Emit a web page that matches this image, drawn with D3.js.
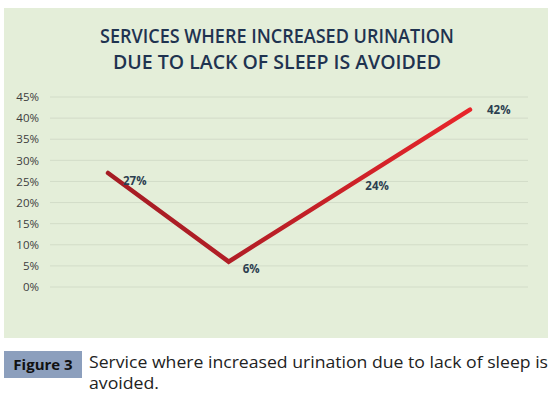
<!DOCTYPE html>
<html><head><meta charset="utf-8">
<script src="https://cdn.jsdelivr.net/npm/d3@7"></script>
<style>body{margin:0;background:#fff}svg{display:block}</style>
</head><body>
<script>
const categories = ["A","B","C","D"];
const values = [0.27, 0.06, 0.24, 0.42];
const valueLabels = ["27%","6%","24%","42%"];
const yTicks = [0,0.05,0.10,0.15,0.20,0.25,0.30,0.35,0.40,0.45];
const titleLines = ["SERVICES WHERE INCREASED URINATION","DUE TO LACK OF SLEEP IS AVOIDED"];

const W=558,H=394;
const svg=d3.select("body").append("svg").attr("width",W).attr("height",H);
svg.append("rect").attr("x",4).attr("y",8).attr("width",544).attr("height",330).attr("fill","#e4eed9");

const x=d3.scalePoint().domain(categories).range([108,470]);
const y=d3.scaleLinear().domain([0,0.45]).range([287,97]);

const g=svg.append("g");
g.selectAll("line.grid").data(yTicks).join("line")
 .attr("x1",50).attr("x2",528).attr("y1",d=>y(d)).attr("y2",d=>y(d))
 .attr("stroke","#d2dcc8").attr("stroke-width",1);

const ax=svg.append("g").attr("transform","translate(39,0)")
 .call(d3.axisLeft(y).tickValues(yTicks).tickFormat(d3.format(".0%")).tickSize(0).tickPadding(0));
ax.select(".domain").remove();
ax.selectAll("text").attr("font-family","'Open Sans',sans-serif").attr("font-size",11.5).attr("fill","#3d3d3d");

svg.selectAll("text.title").data(titleLines).join("text")
 .attr("x",277).attr("y",(d,i)=>43+i*26).attr("text-anchor","middle")
 .attr("font-family","'Open Sans',sans-serif").attr("font-weight",600).attr("font-size",19.5)
 .attr("fill","#1f3350").text(d=>d)
 .attr("textLength",(d,i)=>i===0?354:328).attr("lengthAdjust","spacingAndGlyphs");

const defs=svg.append("defs");
const grad=defs.append("linearGradient").attr("id","lg").attr("gradientUnits","userSpaceOnUse")
 .attr("x1",x("A")).attr("x2",x("D")).attr("y1",0).attr("y2",0);
grad.append("stop").attr("offset","0%").attr("stop-color","#a51c24");
grad.append("stop").attr("offset","35%").attr("stop-color","#b21e26");
grad.append("stop").attr("offset","100%").attr("stop-color","#e8252a");

const line=d3.line().x((d,i)=>x(categories[i])).y(d=>y(d));
svg.append("path").datum(values).attr("d",line).attr("fill","none")
 .attr("stroke","url(#lg)").attr("stroke-width",4.5).attr("stroke-linejoin","miter").attr("stroke-linecap","round");

const lblOff=[[15,8],[14,7],[16,0],[17,0]];
svg.selectAll("text.lbl").data(values).join("text")
 .attr("x",(d,i)=>x(categories[i])+lblOff[i][0]).attr("y",(d,i)=>y(d)+lblOff[i][1]+4)
 .attr("font-family","'Open Sans',sans-serif").attr("font-weight",700).attr("font-size",11.5)
 .attr("fill","#2c3e50").text((d,i)=>valueLabels[i]);

// caption
svg.append("rect").attr("x",4).attr("y",351).attr("width",78).attr("height",27).attr("fill","#8c9fbd");
svg.append("text").attr("x",43).attr("y",370).attr("text-anchor","middle")
 .attr("font-family","'Open Sans',sans-serif").attr("font-weight",700).attr("font-size",15).attr("fill","#111").text("Figure 3");
svg.append("text").attr("x",89).attr("y",368).attr("font-family","'Open Sans',sans-serif").attr("font-size",16).attr("fill","#222")
 .text("Service where increased urination due to lack of sleep is").attr("textLength",459).attr("lengthAdjust","spacingAndGlyphs");
svg.append("text").attr("x",89).attr("y",389).attr("font-family","'Open Sans',sans-serif").attr("font-size",16).attr("fill","#222")
 .text("avoided.").attr("textLength",70).attr("lengthAdjust","spacingAndGlyphs");
</script>
</body></html>
